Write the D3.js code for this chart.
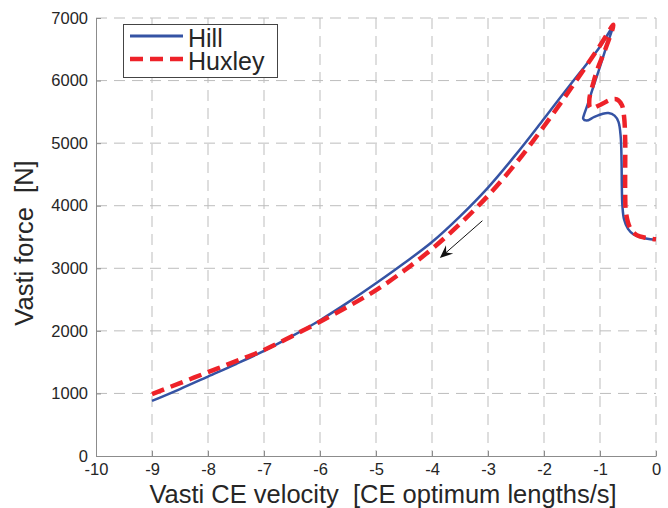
<!DOCTYPE html>
<html>
<head>
<meta charset="utf-8">
<script src="https://cdn.jsdelivr.net/npm/d3@7"></script>
<style>
  body { margin: 0; background: #fff; }
  text { font-family: "Liberation Sans", Arial, sans-serif; fill: #262626; }
</style>
</head>
<body>
<script>
// Hill model (CE velocity vs force)
var hillX = [-9.0, -8.5, -8.0, -7.5, -7.0, -6.5, -6.0, -5.5, -5.0, -4.5, -4.0, -3.5, -3.0, -2.5, -2.0, -1.5, -1.0, -0.77,
             -0.88, -1.0, -1.12, -1.22, -1.29, -1.30, -1.24, -1.10, -0.95, -0.85, -0.74, -0.67, -0.63, -0.615, -0.61, -0.60, -0.57, -0.50, -0.40, -0.25, -0.10, 0.0];
var hillY = [880, 1070, 1270, 1470, 1680, 1915, 2170, 2455, 2760, 3080, 3420, 3830, 4290, 4820, 5390, 5970, 6540, 6860,
             6560, 6222, 5900, 5620, 5440, 5390, 5360, 5420, 5470, 5480, 5440, 5340, 5100, 4700, 4300, 4000, 3780, 3630, 3540, 3490, 3465, 3460];

// Huxley model
var huxleyX = [-9.0, -8.5, -8.0, -7.5, -7.0, -6.5, -6.0, -5.5, -5.0, -4.5, -4.0, -3.5, -3.0, -2.5, -2.0, -1.5, -1.0, -0.76,
               -0.91, -1.03, -1.12, -1.19, -1.17, -1.0, -0.82, -0.70, -0.61, -0.57, -0.55, -0.55, -0.55, -0.535, -0.46, -0.345, -0.17, 0.0];
var huxleyY = [990, 1165, 1340, 1515, 1694, 1915, 2147, 2390, 2650, 2960, 3310, 3710, 4160, 4680, 5270, 5900, 6560, 6890,
               6490, 6220, 5960, 5700, 5560, 5610, 5690, 5700, 5610, 5420, 5050, 4620, 4200, 3880, 3640, 3530, 3485, 3463];

var xTicks = [-10, -9, -8, -7, -6, -5, -4, -3, -2, -1, 0];
var yTicks = [0, 1000, 2000, 3000, 4000, 5000, 6000, 7000];

// arrow annotation, data units: [x, y]
var arrowFrom = [-3.1, 3760];
var arrowTo = [-3.86, 3164];

var width = 668, height = 508;
var plotLeft = 96, plotRight = 656, plotTop = 18, plotBottom = 456;

var svg = d3.select('body').append('svg')
  .attr('width', width)
  .attr('height', height);

var x = d3.scaleLinear().domain([-10, 0]).range([plotLeft, plotRight]);
var y = d3.scaleLinear().domain([0, 7000]).range([plotBottom, plotTop]);

// dashed grid
svg.append('g').selectAll('line')
  .data(xTicks.filter(function(d) { return d !== -10; }))
  .enter().append('line')
  .attr('x1', function(d) { return x(d); })
  .attr('x2', function(d) { return x(d); })
  .attr('y1', plotTop).attr('y2', plotBottom)
  .attr('stroke', '#bdbdbd').attr('stroke-width', 1)
  .attr('stroke-dasharray', '11,7');

svg.append('g').selectAll('line')
  .data(yTicks.filter(function(d) { return d !== 0; }))
  .enter().append('line')
  .attr('y1', function(d) { return y(d); })
  .attr('y2', function(d) { return y(d); })
  .attr('x1', plotLeft).attr('x2', plotRight)
  .attr('stroke', '#bdbdbd').attr('stroke-width', 1)
  .attr('stroke-dasharray', '11,7');

// axes (MATLAB-style inward ticks, plain hyphen minus)
var fmt = function(d) { return String(d); };

var xAxis = svg.append('g')
  .attr('transform', 'translate(0,' + plotBottom + ')')
  .call(d3.axisBottom(x).tickValues(xTicks).tickSize(-5).tickSizeOuter(0).tickPadding(7).tickFormat(fmt));

var yAxis = svg.append('g')
  .attr('transform', 'translate(' + plotLeft + ',0)')
  .call(d3.axisLeft(y).tickValues(yTicks).tickSize(-5).tickSizeOuter(0).tickPadding(8).tickFormat(fmt));

[xAxis, yAxis].forEach(function(a) {
  a.select('.domain').attr('stroke', '#8c8c8c');
  a.selectAll('.tick line').attr('stroke', '#8c8c8c');
  a.selectAll('.tick text')
    .style('font-family', '"Liberation Sans", Arial, sans-serif')
    .style('font-size', '16.5px')
    .attr('fill', '#262626');
});

// curves
var line = d3.line()
  .x(function(d) { return x(d[0]); })
  .y(function(d) { return y(d[1]); })
  .curve(d3.curveCatmullRom.alpha(0.5));

var hill = hillX.map(function(v, i) { return [v, hillY[i]]; });
var huxley = huxleyX.map(function(v, i) { return [v, huxleyY[i]]; });

svg.append('path')
  .datum(hill)
  .attr('d', line)
  .attr('fill', 'none')
  .attr('stroke', '#3553a4')
  .attr('stroke-width', 2.5);

svg.append('path')
  .datum(huxley)
  .attr('d', line)
  .attr('fill', 'none')
  .attr('stroke', '#ee2229')
  .attr('stroke-width', 4.5)
  .attr('stroke-dasharray', '13,7');

// arrow
var ax0 = x(arrowFrom[0]), ay0 = y(arrowFrom[1]);
var ax1 = x(arrowTo[0]), ay1 = y(arrowTo[1]);
var ang = Math.atan2(ay1 - ay0, ax1 - ax0);
var headLen = 13, headW = 5.5;
function pt(along, side) {
  return [ax1 - along * Math.cos(ang) - side * Math.sin(ang),
          ay1 - along * Math.sin(ang) + side * Math.cos(ang)];
}
svg.append('line')
  .attr('x1', ax0).attr('y1', ay0)
  .attr('x2', pt(8, 0)[0]).attr('y2', pt(8, 0)[1])
  .attr('stroke', '#111').attr('stroke-width', 1);
svg.append('path')
  .attr('d', 'M' + [pt(0, 0), pt(headLen, headW), pt(headLen * 0.65, 0), pt(headLen, -headW)].join('L') + 'Z')
  .attr('fill', '#111');

// legend
var lg = svg.append('g');
lg.append('rect')
  .attr('x', 123.5).attr('y', 24.5)
  .attr('width', 154).attr('height', 53)
  .attr('fill', '#fff').attr('stroke', '#444').attr('stroke-width', 1);
lg.append('line')
  .attr('x1', 130).attr('x2', 183).attr('y1', 36).attr('y2', 36)
  .attr('stroke', '#3553a4').attr('stroke-width', 3);
lg.append('line')
  .attr('x1', 130).attr('x2', 183).attr('y1', 59).attr('y2', 59)
  .attr('stroke', '#ee2229').attr('stroke-width', 4.5)
  .attr('stroke-dasharray', '13,7');
lg.append('text').attr('x', 188).attr('y', 46.5)
  .style('font-size', '25px').attr('fill', '#111').text('Hill');
lg.append('text').attr('x', 188).attr('y', 69.5)
  .style('font-size', '25px').attr('fill', '#111').text('Huxley');

// axis labels
svg.append('text')
  .attr('x', 383).attr('y', 503)
  .attr('text-anchor', 'middle')
  .style('font-size', '25.5px')
  .style('white-space', 'pre')
  .text('Vasti CE velocity  [CE optimum lengths/s]');

svg.append('text')
  .attr('transform', 'translate(33,243) rotate(-90)')
  .attr('text-anchor', 'middle')
  .style('font-size', '25.5px')
  .style('white-space', 'pre')
  .text('Vasti force  [N]');
</script>
</body>
</html>
